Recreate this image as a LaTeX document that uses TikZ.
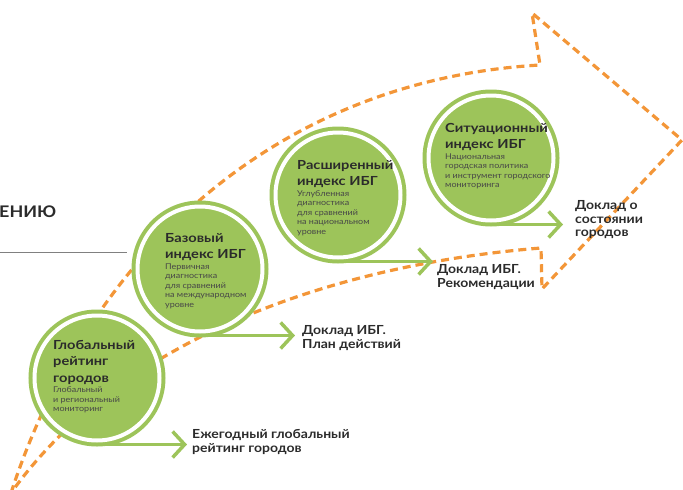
\documentclass[tikz,border=0pt]{standalone}
\usepackage{fontspec}
\setmainfont{Lato}
\newfontfamily\ibgwide[FakeStretch=1.12]{Lato}
\newfontfamily\ibgtitle[FakeStretch=1.17]{Lato}
\usetikzlibrary{positioning,arrows.meta}

\definecolor{leaf}{HTML}{9DC45A}
\definecolor{rust}{HTML}{F39638}
\definecolor{ink}{HTML}{2B2B2B}
\definecolor{inkl}{HTML}{474747}

\tikzset{
  stage/.style={circle, minimum size=125pt, inner sep=0pt, outer sep=0pt,
    fill=leaf, draw=leaf, line width=4pt, double=white, double distance=4pt},
  ttl/.style={anchor=north west, inner sep=0pt, align=left, text=ink,
    font=\ibgtitle\bfseries\fontsize{12.5}{16.5}\selectfont},
  sub/.style={inner sep=0pt, align=left, text=inkl,
    font=\ibgwide\fontsize{8}{9.5}\selectfont},
  outcome/.style={anchor=west, inner sep=0pt, align=left, text=ink,
    font=\ibgwide\bfseries\fontsize{12.5}{13.5}\selectfont},
  flow/.style={draw=leaf, line width=3.5pt, -{Straight Barb[length=12pt,width=26pt]}},
  trail/.style={draw=rust, line width=3.2pt, dash pattern=on 8pt off 5pt},
}

\begin{document}
\begin{tikzpicture}[x=1pt, y=-1pt]
    \useasboundingbox (0,0) rectangle (683,490);

    % heading, cut off on the left
    \node[anchor=base west, inner sep=0pt, text=ink, font=\ibgwide\bfseries\fontsize{16}{16}\selectfont] (hdr) at (-1,217) {ЕНИЮ};
    \draw[gray, line width=0.8pt] (0,252) -- (127,252);

    % big dashed arrow
    \draw[trail] (11,493) .. controls (90,250) and (280,80) .. (540,65)
        -- (532,13) -- (682,140) -- (542,289) -- (541,248)
        .. controls (330,265) and (120,340) .. (11,493) -- cycle;

    % stages
    \node[stage] (glob) at (97,378) {};
    \node[stage] (base) at (200,269) {};
    \node[stage] (ext) at (338,195) {};
    \node[stage] (sit) at (491,158) {};

    \draw[flow] ([yshift=-4pt]glob.south) -- ++(90,0);
    \draw[flow] ([yshift=-4pt]base.south) -- ++(95,0);
    \draw[flow] ([yshift=-4pt]ext.south) -- ++(95,0);
    \draw[flow] ([yshift=-4pt]sit.south) -- ++(72,0);

    % texts in the circles
    \node[ttl] (glob-t) at (53,340) {Глобальный\\рейтинг\\городов};
    \node[sub, below right=2pt and 0pt of glob-t.south west] (glob-s) {Глобальный\\и региональный\\мониторинг};

    \node[ttl] (base-t) at (165,233) {Базовый\\индекс ИБГ};
    \node[sub, below right=2pt and 0pt of base-t.south west] (base-s) {Первичная\\диагностика\\для сравнений\\на международном\\уровне};

    \node[ttl] (ext-t) at (297,160) {Расширенный\\индекс ИБГ};
    \node[sub, below right=2pt and 0pt of ext-t.south west] (ext-s) {Углубленная\\диагностика\\для сравнений\\на национальном\\уровне};

    \node[ttl] (sit-t) at (445,123) {Ситуационный\\индекс ИБГ};
    \node[sub, below right=2pt and 0pt of sit-t.south west] (sit-s) {Национальная\\городская политика\\и инструмент городского\\мониторинга};

    % outcomes
    \node[outcome] (glob-o) at (192,442) {Ежегодный глобальный\\рейтинг городов};
    \node[outcome] (base-o) at (302,338) {Доклад ИБГ.\\План действий};
    \node[outcome] (ext-o) at (437,277) {Доклад ИБГ.\\Рекомендации};
    \node[outcome] (sit-o) at (575,220) {Доклад о\\состоянии\\городов};
\end{tikzpicture}
\end{document}
